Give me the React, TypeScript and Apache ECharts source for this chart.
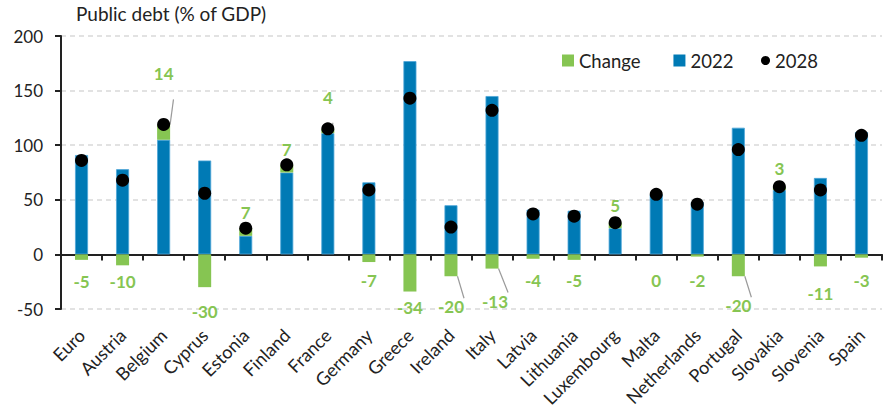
import React, { useEffect, useRef } from "react";
import * as echarts from "echarts";

// Public debt, % of GDP
const countries = [
  "Euro", "Austria", "Belgium", "Cyprus", "Estonia", "Finland", "France",
  "Germany", "Greece", "Ireland", "Italy", "Latvia", "Lithuania", "Luxembourg",
  "Malta", "Netherlands", "Portugal", "Slovakia", "Slovenia", "Spain",
];
const debt2022 = [91, 78, 105, 86, 17, 75, 111, 66, 177, 45, 145, 41, 40, 24, 55, 48, 116, 59, 70, 112];
const change = [-5, -10, 14, -30, 7, 7, 4, -7, -34, -20, -13, -4, -5, 5, 0, -2, -20, 3, -11, -3];
const debt2028 = [86, 68, 119, 56, 24, 82, 115, 59, 143, 25, 132, 37, 35, 29, 55, 46, 96, 62, 59, 109];
const yMin = -50;
const yMax = 200;
const yStep = 50;

// Label nudges (px) so change labels sit on a common row, with guide lines where moved far
const labelDx = [0, 0, 0, 0, 0, 0, 0, 0, 0, 0, 3, 0, 0, 0, 0, 0, 0, 0, 0, 0];
const labelDy = [8, 3, -37, 11, -2, -2, -18, 5, 2, 17, 19, 8, 7, -4, 13, 10, 16, -5, 14, 9];
const withLeader = [false, false, true, false, false, false, true, false, false, true, true, false, false, false, false, false, true, false, false, false];

const BLUE = "#007ab5";
const GREEN = "#86c552";
const TEXT = "#222222";
const FONT = "Lato, 'Noto Sans', sans-serif";

export default function App() {
  const ref = useRef<HTMLDivElement>(null);

  useEffect(() => {
    if (!ref.current) return;
    const chart = echarts.init(ref.current, null, { renderer: "svg" });

    const changeItem = (i: number, keep: (v: number) => boolean) => {
      const v = change[i];
      if (!keep(v)) return "-";
      return {
        value: v,
        label: {
          position: v > 0 ? "top" : "bottom",
          offset: [labelDx[i], labelDy[i]],
        },
        labelLine: { show: withLeader[i] },
      };
    };

    const changeLabel = {
      show: true,
      color: GREEN,
      fontFamily: FONT,
      fontWeight: "bold",
      fontSize: 17,
      distance: 5,
    };
    const leaderStyle = { lineStyle: { color: "#9a9a9a", width: 1.2 } };

    chart.setOption({
      animation: false,
      textStyle: { fontFamily: FONT },
      title: {
        text: "Public debt (% of GDP)",
        left: 76,
        top: 4,
        padding: 0,
        textStyle: { fontFamily: FONT, fontSize: 19, fontWeight: "normal", color: TEXT },
      },
      legend: [
        {
          data: ["Change", "2022"],
          left: 562,
          top: 51,
          padding: 0,
          itemWidth: 12,
          itemHeight: 12,
          itemGap: 33,
          icon: "rect",
          itemStyle: { borderWidth: 0 },
          textStyle: { fontFamily: FONT, fontSize: 18.5, color: TEXT },
        },
        {
          data: ["2028"],
          left: 761,
          top: 51,
          padding: 0,
          itemWidth: 9,
          itemHeight: 9,
          icon: "circle",
          itemStyle: { opacity: 1 },
          textStyle: { fontFamily: FONT, fontSize: 18.5, color: TEXT },
        },
      ],
      grid: { left: 61, right: 3, top: 36, bottom: 103, containLabel: false, outerBoundsMode: "none" },
      xAxis: [
        {
          type: "category",
          data: countries,
          position: "bottom",
          axisLine: { show: false, onZero: false },
          axisTick: { show: false },
          axisLabel: {
            interval: 0,
            rotate: 45,
            margin: 23,
            hideOverlap: false,
            fontFamily: FONT,
            fontSize: 18,
            color: TEXT,
          },
        },
        {
          type: "category",
          data: countries,
          position: "bottom",
          axisLine: {
            show: true,
            onZero: true,
            onZeroAxisIndex: 0,
            lineStyle: { color: TEXT, width: 2 },
          },
          axisTick: { show: true, interval: 0, length: 6, lineStyle: { color: TEXT, width: 2 } },
          axisLabel: { show: false },
          splitLine: { show: false },
        },
      ],
      yAxis: {
        type: "value",
        min: yMin,
        max: yMax,
        interval: yStep,
        axisLine: { show: true, lineStyle: { color: TEXT, width: 2 } },
        axisTick: { show: true, length: 6, lineStyle: { color: TEXT, width: 2 } },
        axisLabel: { margin: 18, fontFamily: FONT, fontSize: 17, color: TEXT },
        splitLine: { show: true, lineStyle: { color: "#d9d9d9", width: 1.5, type: [5, 4] } },
      },
      series: [
        {
          name: "2022",
          type: "bar",
          stack: "up",
          barWidth: 13,
          barGap: "-100%",
          data: debt2022,
          itemStyle: { color: BLUE, borderColor: "#4ea6d8", borderWidth: 0.8 },
          z: 2,
        },
        {
          name: "Change",
          type: "bar",
          stack: "up",
          barWidth: 13,
          barGap: "-100%",
          data: change.map((_, i) => changeItem(i, (v) => v > 0)),
          itemStyle: { color: GREEN },
          label: changeLabel,
          labelLine: leaderStyle,
          z: 2,
        },
        {
          name: "Change",
          type: "bar",
          stack: "down",
          barWidth: 13,
          barGap: "-100%",
          data: change.map((_, i) => changeItem(i, (v) => v <= 0)),
          itemStyle: { color: GREEN },
          label: changeLabel,
          labelLine: leaderStyle,
          z: 2,
        },
        {
          name: "2028",
          type: "scatter",
          data: debt2028,
          symbol: "circle",
          symbolSize: 13,
          itemStyle: { color: "#000000", opacity: 1 },
          z: 5,
        },
      ],
    });

    return () => chart.dispose();
  }, []);

  return (
    <div
      ref={ref}
      style={{ position: "fixed", left: 0, top: 0, width: 885, height: 412, background: "#ffffff" }}
    />
  );
}
